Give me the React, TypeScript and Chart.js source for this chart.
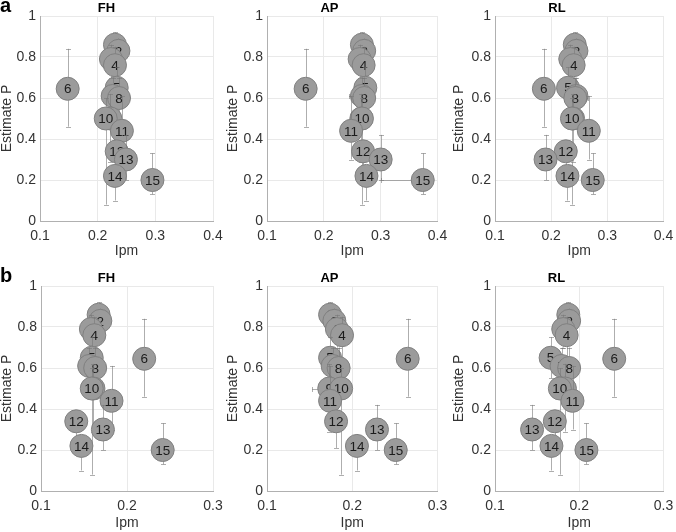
import React, { useEffect, useRef } from 'react';
import { Chart, registerables } from 'chart.js';

Chart.register(...registerables);

const FONT = "'Liberation Sans', Arial, Helvetica, sans-serif";

// ---------- DATA ----------
const pointLabels = ['1', '2', '3', '4', '5', '6', '7', '8', '9', '10', '11', '12', '13', '14', '15'];
const estimateP = [0.86, 0.83, 0.79, 0.76, 0.65, 0.645, 0.61, 0.6, 0.5, 0.5, 0.44, 0.34, 0.3, 0.22, 0.2];
const estimateLow = [0.8, 0.76, 0.7, 0.64, 0.55, 0.46, 0.5, 0.5, 0.29, 0.08, 0.3, 0.21, 0.2, 0.1, 0.13];
const estimateHigh = [0.92, 0.89, 0.86, 0.85, 0.75, 0.84, 0.7, 0.7, 0.62, 0.6, 0.61, 0.39, 0.42, 0.25, 0.33];

const yTicks = [0, 0.2, 0.4, 0.6, 0.8, 1];
const xTicksA = [0.1, 0.2, 0.3, 0.4];
const xTicksB = [0.1, 0.2, 0.3];

const panelTitles = ['FH', 'AP', 'RL'];
const rowLetters = ['a', 'b'];
const xAxisTitle = 'Ipm';
const yAxisTitle = 'Estimate P';

// Ipm (x) values per panel
const ipmFH_a = [0.23, 0.236, 0.223, 0.23, 0.233, 0.148, 0.226, 0.237, 0.222, 0.214, 0.242, 0.233, 0.249, 0.23, 0.295];
const ipmAP_a = [0.267, 0.271, 0.263, 0.27, 0.273, 0.168, 0.267, 0.271, 0.266, 0.267, 0.248, 0.269, 0.3, 0.275, 0.374];
const ipmRL_a = [0.242, 0.245, 0.234, 0.24, 0.23, 0.187, 0.245, 0.243, 0.239, 0.237, 0.267, 0.226, 0.19, 0.229, 0.274];
const ipmFH_b = [0.167, 0.169, 0.158, 0.162, 0.159, 0.22, 0.156, 0.163, 0.161, 0.159, 0.182, 0.141, 0.172, 0.147, 0.2415];
const ipmAP_b = [0.174, 0.179, 0.182, 0.188, 0.174, 0.265, 0.177, 0.184, 0.173, 0.187, 0.174, 0.181, 0.229, 0.2055, 0.251];
const ipmRL_b = [0.187, 0.188, 0.181, 0.185, 0.166, 0.2415, 0.179, 0.188, 0.183, 0.177, 0.192, 0.171, 0.144, 0.167, 0.2085];

// Ipm error half-widths (minus / plus) per panel
const ipmMinusFH_a = [0.004, 0.004, 0.005, 0.004, 0.004, 0.006, 0.004, 0.005, 0.006, 0.005, 0.005, 0.004, 0.005, 0.004, 0.004];
const ipmPlusFH_a = [0.004, 0.004, 0.005, 0.004, 0.004, 0.006, 0.004, 0.005, 0.006, 0.005, 0.005, 0.004, 0.005, 0.004, 0.004];
const ipmMinusAP_a = [0.004, 0.004, 0.005, 0.004, 0.004, 0.016, 0.022, 0.005, 0.006, 0.005, 0.005, 0.004, 0.005, 0.004, 0.074];
const ipmPlusAP_a = [0.004, 0.004, 0.005, 0.004, 0.004, 0.019, 0.004, 0.005, 0.006, 0.005, 0.005, 0.004, 0.005, 0.004, 0.004];
const ipmMinusRL_a = [0.004, 0.004, 0.005, 0.004, 0.004, 0.006, 0.004, 0.005, 0.006, 0.005, 0.005, 0.004, 0.005, 0.004, 0.004];
const ipmPlusRL_a = [0.004, 0.004, 0.005, 0.004, 0.004, 0.006, 0.004, 0.022, 0.006, 0.005, 0.005, 0.004, 0.005, 0.004, 0.004];
const ipmMinusFH_b = [0.003, 0.003, 0.004, 0.003, 0.003, 0.004, 0.003, 0.004, 0.004, 0.004, 0.004, 0.003, 0.004, 0.003, 0.003];
const ipmPlusFH_b = [0.003, 0.003, 0.004, 0.003, 0.003, 0.004, 0.003, 0.004, 0.004, 0.004, 0.004, 0.003, 0.004, 0.003, 0.003];
const ipmMinusAP_b = [0.003, 0.003, 0.004, 0.003, 0.003, 0.004, 0.003, 0.004, 0.02, 0.004, 0.004, 0.003, 0.004, 0.003, 0.003];
const ipmPlusAP_b = [0.003, 0.003, 0.004, 0.003, 0.003, 0.004, 0.003, 0.004, 0.004, 0.004, 0.004, 0.003, 0.004, 0.003, 0.003];
const ipmMinusRL_b = [0.003, 0.003, 0.004, 0.003, 0.003, 0.004, 0.003, 0.004, 0.004, 0.011, 0.004, 0.003, 0.004, 0.003, 0.003];
const ipmPlusRL_b = [0.003, 0.003, 0.004, 0.003, 0.003, 0.004, 0.003, 0.004, 0.004, 0.004, 0.004, 0.003, 0.004, 0.003, 0.003];

// ---------- LAYOUT ----------
const ROW_TOP = [0, 270];
const ROW_H = [260, 262];
const X_SCALE_H = [39, 41];
const COL_LEFT = [0, 220, 446];
const COL_W = 230;
const Y_SCALE_W = [[40, 47, 49], [41, 47, 49]];
const PAD_RIGHT = [[17, 11, 8], [17, 11, 9]];
const Y_TITLE_PAD = [0, 6, 6];

type PanelDef = {
  row: number;
  col: number;
  title: string;
  ipm: number[];
  minus: number[];
  plus: number[];
  xTicks: number[];
};

const panels: PanelDef[] = [
  { row: 0, col: 0, title: panelTitles[0], ipm: ipmFH_a, minus: ipmMinusFH_a, plus: ipmPlusFH_a, xTicks: xTicksA },
  { row: 0, col: 1, title: panelTitles[1], ipm: ipmAP_a, minus: ipmMinusAP_a, plus: ipmPlusAP_a, xTicks: xTicksA },
  { row: 0, col: 2, title: panelTitles[2], ipm: ipmRL_a, minus: ipmMinusRL_a, plus: ipmPlusRL_a, xTicks: xTicksA },
  { row: 1, col: 0, title: panelTitles[0], ipm: ipmFH_b, minus: ipmMinusFH_b, plus: ipmPlusFH_b, xTicks: xTicksB },
  { row: 1, col: 1, title: panelTitles[1], ipm: ipmAP_b, minus: ipmMinusAP_b, plus: ipmPlusAP_b, xTicks: xTicksB },
  { row: 1, col: 2, title: panelTitles[2], ipm: ipmRL_b, minus: ipmMinusRL_b, plus: ipmPlusRL_b, xTicks: xTicksB },
];

const errorLabelPlugin = {
  id: 'errorLabel',
  beforeDatasetDraw(chart: any, args: any) {
    const ds: any = chart.data.datasets[args.index];
    const xs = chart.scales.x;
    const ys = chart.scales.y;
    const ca = chart.chartArea;
    const ctx = chart.ctx;
    const p = ds.data[0];
    const px = xs.getPixelForValue(p.x);
    const py = ys.getPixelForValue(p.y);
    const cap = 2.5;
    ctx.save();
    ctx.beginPath();
    ctx.rect(ca.left, ca.top, ca.right - ca.left, ca.bottom - ca.top);
    ctx.clip();
    ctx.strokeStyle = 'rgba(120,120,120,0.6)';
    ctx.lineWidth = 1;
    // vertical error bar
    const yl = ys.getPixelForValue(ds.errY[0]);
    const yh = ys.getPixelForValue(ds.errY[1]);
    const cx = Math.round(px) + 0.5;
    ctx.beginPath();
    ctx.moveTo(cx, yl);
    ctx.lineTo(cx, yh);
    ctx.moveTo(cx - cap, Math.round(yl) + 0.5);
    ctx.lineTo(cx + cap, Math.round(yl) + 0.5);
    ctx.moveTo(cx - cap, Math.round(yh) + 0.5);
    ctx.lineTo(cx + cap, Math.round(yh) + 0.5);
    ctx.stroke();
    // horizontal error bar
    const xl = xs.getPixelForValue(ds.errX[0]);
    const xh = xs.getPixelForValue(ds.errX[1]);
    const cy = Math.round(py) + 0.5;
    ctx.beginPath();
    ctx.moveTo(xl, cy);
    ctx.lineTo(xh, cy);
    ctx.moveTo(Math.round(xl) + 0.5, cy - cap);
    ctx.lineTo(Math.round(xl) + 0.5, cy + cap);
    ctx.moveTo(Math.round(xh) + 0.5, cy - cap);
    ctx.lineTo(Math.round(xh) + 0.5, cy + cap);
    ctx.stroke();
    ctx.restore();
  },
  afterDatasetDraw(chart: any, args: any) {
    const ds: any = chart.data.datasets[args.index];
    const p = ds.data[0];
    const px = chart.scales.x.getPixelForValue(p.x);
    const py = chart.scales.y.getPixelForValue(p.y);
    const ctx = chart.ctx;
    ctx.save();
    ctx.font = `13.5px ${FONT}`;
    ctx.fillStyle = '#1c1c1c';
    ctx.textAlign = 'center';
    ctx.textBaseline = 'middle';
    ctx.fillText(ds.label, px, py + 1);
    ctx.restore();
  },
};

function Panel({ def }: { def: PanelDef }) {
  const ref = useRef<HTMLCanvasElement | null>(null);
  useEffect(() => {
    if (!ref.current) return;
    const { row, col } = def;
    const n = pointLabels.length;
    const datasets = pointLabels.map((lab, i) => ({
      label: lab,
      data: [{ x: def.ipm[i], y: estimateP[i] }],
      order: n - 1 - i,
      pointRadius: 11.5,
      pointHoverRadius: 11.5,
      pointBackgroundColor: '#9b9b9b',
      pointBorderColor: '#808080',
      pointBorderWidth: 1,
      clip: false as any,
      errX: [def.ipm[i] - def.minus[i], def.ipm[i] + def.plus[i]],
      errY: [estimateLow[i], estimateHigh[i]],
    }));
    const tickFont = { family: FONT, size: 14 };
    const chart = new Chart(ref.current, {
      type: 'scatter',
      data: { datasets: datasets as any },
      plugins: [errorLabelPlugin],
      options: {
        animation: false,
        responsive: false,
        maintainAspectRatio: false,
        events: [],
        layout: { padding: { left: 0, right: PAD_RIGHT[row][col], top: 0, bottom: 0 } },
        plugins: {
          legend: { display: false },
          tooltip: { enabled: false },
          title: {
            display: true,
            text: def.title,
            color: '#000',
            font: { family: FONT, size: 13, weight: 'bold', lineHeight: 1 },
            padding: { top: 2, bottom: 1 },
          },
        },
        scales: {
          x: {
            type: 'linear',
            min: def.xTicks[0],
            max: def.xTicks[def.xTicks.length - 1],
            afterBuildTicks: (s: any) => {
              s.ticks = def.xTicks.map((v) => ({ value: v }));
            },
            afterFit: (s: any) => {
              s.height = X_SCALE_H[row];
              s.paddingLeft = 0;
              s.paddingRight = 0;
            },
            ticks: {
              font: tickFont,
              color: '#333',
              padding: 7,
              maxRotation: 0,
              autoSkip: false,
              callback: (v: any) => String(Math.round(Number(v) * 10) / 10),
            },
            grid: { color: '#e9e9e9', drawTicks: false, lineWidth: 1 },
            border: { display: true, color: '#b0b0b0', width: 1 },
            title: {
              display: true,
              text: xAxisTitle,
              color: '#333',
              font: { family: FONT, size: 14, lineHeight: 1.2 },
              padding: { top: 0, bottom: 0 },
            },
          },
          y: {
            type: 'linear',
            min: 0,
            max: 1,
            afterBuildTicks: (s: any) => {
              s.ticks = yTicks.map((v) => ({ value: v }));
            },
            afterFit: (s: any) => {
              s.width = Y_SCALE_W[row][col];
              s.paddingTop = 0;
              s.paddingBottom = 0;
            },
            ticks: {
              font: tickFont,
              color: '#333',
              padding: 4,
              autoSkip: false,
              callback: (v: any) => String(Math.round(Number(v) * 10) / 10),
            },
            grid: { color: '#e9e9e9', drawTicks: false, lineWidth: 1 },
            border: { display: true, color: '#b0b0b0', width: 1 },
            title: {
              display: true,
              text: yAxisTitle,
              color: '#333',
              font: { family: FONT, size: 14, lineHeight: 1 },
              padding: { top: Y_TITLE_PAD[col], bottom: 0 },
            },
          },
        },
      } as any,
    });
    return () => chart.destroy();
  }, [def]);
  const { row, col } = def;
  return (
    <canvas
      ref={ref}
      width={COL_W}
      height={ROW_H[row]}
      style={{
        position: 'absolute',
        left: COL_LEFT[col],
        top: ROW_TOP[row],
        width: COL_W,
        height: ROW_H[row],
      }}
    />
  );
}

export default function App() {
  return (
    <div
      style={{
        position: 'absolute',
        left: 0,
        top: 0,
        width: 676,
        height: 532,
        overflow: 'hidden',
        background: '#fff',
        fontFamily: FONT,
      }}
    >
      {panels.map((p, i) => (
        <Panel key={i} def={p} />
      ))}
      {rowLetters.map((l, i) => (
        <div
          key={l}
          style={{
            position: 'absolute',
            left: 0,
            top: ROW_TOP[i] - 5,
            fontSize: 20,
            lineHeight: '20px',
            fontWeight: 'bold',
            color: '#000',
          }}
        >
          {l}
        </div>
      ))}
    </div>
  );
}
